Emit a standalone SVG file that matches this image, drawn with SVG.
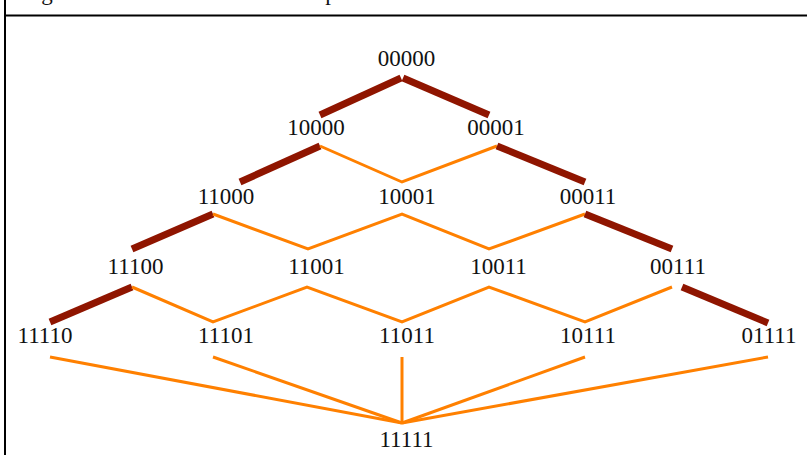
<svg xmlns="http://www.w3.org/2000/svg" width="807" height="455" viewBox="0 0 807 455">
<style>
text{font-family:"Liberation Serif","Times New Roman",serif;font-size:23px;fill:#111;text-anchor:middle}
.d{stroke:#8f1500;stroke-width:7;fill:none}
.o{stroke:#ff8000;stroke-width:3;fill:none}
.f{stroke:#000;stroke-width:2;fill:none}
</style>
<rect width="807" height="455" fill="#fff"/>
<g id="frame">
<line class="f" x1="5" y1="0" x2="5" y2="455"/>
<line class="f" x1="4" y1="15.5" x2="807" y2="15.5"/>
<text x="47" y="0">g</text>
<text x="331" y="0">p</text>
</g>
<g id="connectors">
<line class="d" x1="320" y1="115" x2="401" y2="78"/>
<line class="d" x1="403" y1="78" x2="489" y2="115"/>
<line class="d" x1="320" y1="146" x2="240" y2="182"/>
<polyline class="o" points="320,146 402,182 497,146"/>
<line class="d" x1="497" y1="146" x2="585" y2="182"/>
<line class="d" x1="213" y1="214" x2="132" y2="249"/>
<polyline class="o" points="213,214 308,249 402,214 489,249 585,214"/>
<line class="d" x1="585" y1="214" x2="672" y2="249"/>
<line class="d" x1="132" y1="287" x2="50" y2="322"/>
<polyline class="o" points="132,287 213,322 307,287 402,322 489,287 585,322 672,287"/>
<line class="d" x1="682" y1="287" x2="768" y2="323"/>
<line class="o" x1="50" y1="357" x2="402" y2="423"/>
<line class="o" x1="213" y1="357" x2="402" y2="423"/>
<line class="o" x1="402" y1="357" x2="402" y2="423"/>
<line class="o" x1="585" y1="357" x2="402" y2="423"/>
<line class="o" x1="768" y1="357" x2="402" y2="423"/>
</g>
<g id="n00000"><text x="406.5" y="66">00000</text></g>
<g id="n10000"><text x="316" y="135">10000</text></g>
<g id="n00001"><text x="496" y="135">00001</text></g>
<g id="n11000"><text x="226" y="204">11000</text></g>
<g id="n10001"><text x="407" y="204">10001</text></g>
<g id="n00011"><text x="588" y="204">00011</text></g>
<g id="n11100"><text x="135.5" y="273.5">11100</text></g>
<g id="n11001"><text x="316.5" y="273.5">11001</text></g>
<g id="n10011"><text x="498.5" y="273.5">10011</text></g>
<g id="n00111"><text x="678" y="273.5">00111</text></g>
<g id="n11110"><text x="45" y="343">11110</text></g>
<g id="n11101"><text x="226" y="343">11101</text></g>
<g id="n11011"><text x="407" y="343">11011</text></g>
<g id="n10111"><text x="588" y="343">10111</text></g>
<g id="n01111"><text x="769" y="343">01111</text></g>
<g id="n11111"><text x="406.5" y="447">11111</text></g>
</svg>
